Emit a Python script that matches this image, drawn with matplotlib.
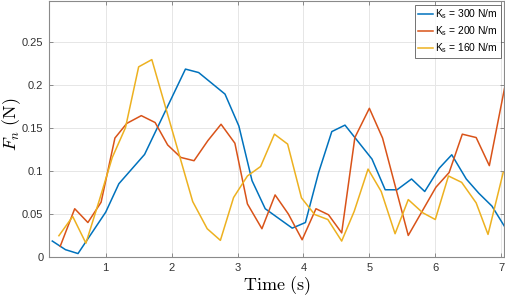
import matplotlib
matplotlib.use("Agg")
import matplotlib.pyplot as plt

# ---- data ----
t_300 = [0.19, 0.39, 0.58, 1.00, 1.20, 1.59, 2.21, 2.41, 2.81, 3.02, 3.22, 3.42,
         3.83, 4.03, 4.23, 4.43, 4.63, 5.04, 5.24, 5.42, 5.64, 5.84, 6.06, 6.25,
         6.47, 6.66, 6.86, 7.05]
f_300 = [0.0185, 0.0085, 0.004, 0.052, 0.085, 0.119, 0.218, 0.214, 0.189, 0.152,
         0.0886, 0.056, 0.0335, 0.040, 0.098, 0.1455, 0.153, 0.1136, 0.078, 0.078,
         0.0905, 0.076, 0.103, 0.1186, 0.0905, 0.074, 0.059, 0.0355]

t_200 = [0.31, 0.53, 0.73, 0.93, 1.14, 1.32, 1.54, 1.75, 1.94, 2.14, 2.34, 2.55,
         2.75, 2.96, 3.15, 3.37, 3.57, 3.77, 3.98, 4.19, 4.38, 4.58, 4.78, 5.00,
         5.20, 5.59, 5.80, 6.01, 6.21, 6.41, 6.62, 6.82, 7.05]
f_200 = [0.0124, 0.056, 0.040, 0.0635, 0.138, 0.155, 0.164, 0.156, 0.130, 0.1155,
         0.1117, 0.135, 0.154, 0.132, 0.0616, 0.0328, 0.072, 0.050, 0.020, 0.056,
         0.049, 0.028, 0.1386, 0.1725, 0.138, 0.025, 0.053, 0.081, 0.098, 0.1425,
         0.1386, 0.106, 0.1956]

t_160 = [0.29, 0.50, 0.70, 0.90, 1.10, 1.30, 1.50, 1.70, 2.32, 2.54, 2.74, 2.94,
         3.15, 3.35, 3.56, 3.76, 3.97, 4.17, 4.37, 4.58, 4.77, 4.98, 5.18, 5.39,
         5.59, 5.81, 6.00, 6.20, 6.40, 6.62, 6.80, 7.03]
f_160 = [0.0247, 0.047, 0.016, 0.065, 0.1155, 0.150, 0.2206, 0.229, 0.0643, 0.0328,
         0.0193, 0.069, 0.094, 0.105, 0.1425, 0.131, 0.0686, 0.0493, 0.0435, 0.0185,
         0.053, 0.102, 0.076, 0.027, 0.0666, 0.0513, 0.0435, 0.094, 0.0866, 0.0628,
         0.0262, 0.098]

labels = ["K$_\\mathregular{s}$ = 300 N/m", "K$_\\mathregular{s}$ = 200 N/m",
          "K$_\\mathregular{s}$ = 160 N/m"]
colors = ["#0072BD", "#D95319", "#EDB120"]

xticks = [1, 2, 3, 4, 5, 6, 7]
yticks = [0, 0.05, 0.1, 0.15, 0.2, 0.25]
yticklabels = ["0", "0.05", "0.1", "0.15", "0.2", "0.25"]

# ---- figure ----
plt.rcParams["font.family"] = ["Liberation Sans", "DejaVu Sans"]
plt.rcParams["mathtext.fontset"] = "cm"

fig = plt.figure(figsize=(5.06, 2.96), dpi=100)
ax = fig.add_axes([49 / 506, 39 / 296, 455.5 / 506, 256 / 296])

for t, f, lab, c in zip([t_300, t_200, t_160], [f_300, f_200, f_160], labels, colors):
    ax.plot(t, f, color=c, lw=1.1, label=lab)

ax.set_xlim(0.14, 7.05)
ax.set_ylim(0, 0.297)
ax.set_xticks(xticks)
ax.set_yticks(yticks)
ax.set_yticklabels(yticklabels)
ax.grid(True, color="#e6e6e6", lw=0.7)
ax.set_axisbelow(True)
ax.tick_params(direction="in", length=3, width=0.7, colors="#8a8a8a",
               labelcolor="#333333", labelsize=8, top=True, right=True, pad=4)
for s in ax.spines.values():
    s.set_color("#8a8a8a")
    s.set_linewidth(0.8)

ax.set_xlabel(r"$\mathrm{Time\ (s)}$", fontsize=13, labelpad=1)
ax.set_ylabel(r"$F_n\ \mathrm{(N)}$", fontsize=13)
ax.yaxis.set_label_coords(-0.058, 0.52)

leg = ax.legend(loc="upper right", fontsize=7.4, frameon=True, fancybox=False,
                handlelength=1.5, handletextpad=0.2, borderpad=0.3,
                labelspacing=0.3, borderaxespad=0.35)
for txt in leg.get_texts():
    txt.set_math_fontfamily("dejavusans")
leg.get_frame().set_edgecolor("#333333")
leg.get_frame().set_linewidth(0.6)

fig.savefig("out.png", dpi=100)
